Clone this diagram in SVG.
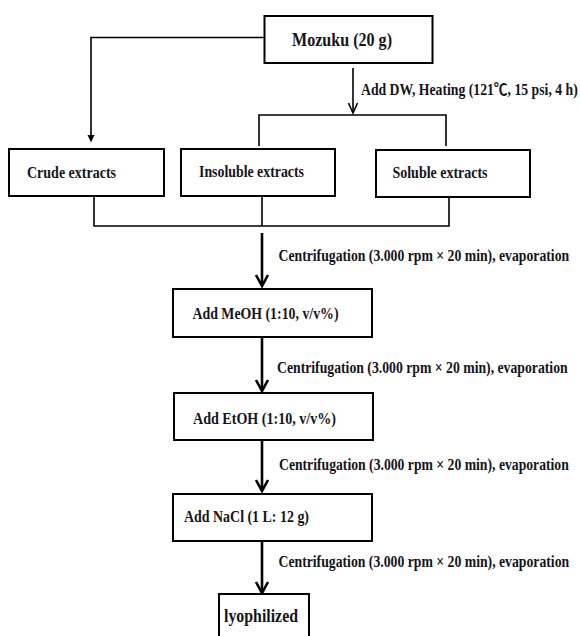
<svg xmlns="http://www.w3.org/2000/svg" width="580" height="636" viewBox="0 0 580 636">
<style>
.box{fill:#fff;stroke:#000;stroke-width:2}
.t{font-family:"Liberation Serif","Times New Roman","Noto Sans CJK KR",serif;font-weight:bold;fill:#14141c;font-size:16px}
.big{font-size:19px}
.conn{fill:none;stroke:#000;stroke-width:1.6}
.main{fill:none;stroke:#000;stroke-width:2.6}
</style>
<rect width="580" height="636" fill="#fff"/>
<g id="connectors">
  <path class="conn" d="M264,37.5 H91 V136"/>
  <polygon points="87.5,135 94.5,135 91,142.5" fill="#000"/>
  <line class="conn" x1="353" y1="68" x2="353" y2="112.5" stroke-width="1.4"/>
  <polyline class="conn" points="348.5,103 353,113 357.5,103" stroke-width="1.4"/>
  <path class="conn" d="M259,146 V115 H446 V146"/>
  <path class="conn" d="M94,197 V226 H449 V197 M262,197 V226"/>
  <line class="main" x1="262" y1="233" x2="262" y2="284"/>
  <polyline class="main" points="256,275 262,286 268,275"/>
  <line class="main" x1="262" y1="337" x2="262" y2="389"/>
  <polyline class="main" points="256,380 262,391 268,380"/>
  <line class="main" x1="262" y1="440" x2="262" y2="489"/>
  <polyline class="main" points="256,480 262,491 268,480"/>
  <line class="main" x1="262" y1="541" x2="262" y2="591"/>
  <polyline class="main" points="256,582 262,593 268,582"/>
  <text class="t" transform="translate(361,95) scale(0.86,1)" x="0" y="0" textLength="252" lengthAdjust="spacingAndGlyphs">Add DW, Heating (121℃, 15 psi, 4 h)</text>
  <text class="t" transform="translate(278.5,261) scale(0.86,1)" x="0" y="0" textLength="338" lengthAdjust="spacingAndGlyphs">Centrifugation (3.000 rpm × 20 min), evaporation</text>
  <text class="t" transform="translate(277,373) scale(0.86,1)" x="0" y="0" textLength="338" lengthAdjust="spacingAndGlyphs">Centrifugation (3.000 rpm × 20 min), evaporation</text>
  <text class="t" transform="translate(279,470) scale(0.86,1)" x="0" y="0" textLength="337" lengthAdjust="spacingAndGlyphs">Centrifugation (3.000 rpm × 20 min), evaporation</text>
  <text class="t" transform="translate(278.5,567) scale(0.86,1)" x="0" y="0" textLength="338" lengthAdjust="spacingAndGlyphs">Centrifugation (3.000 rpm × 20 min), evaporation</text>
</g>
<g id="mozuku">
  <rect class="box" x="264.5" y="16" width="168" height="47" stroke-width="3"/>
  <text class="t big" x="292" y="46" textLength="100" lengthAdjust="spacingAndGlyphs">Mozuku (20 g)</text>
</g>
<g id="crude">
  <rect class="box" x="9" y="149" width="155" height="47"/>
  <text class="t" x="27" y="178" textLength="89" lengthAdjust="spacingAndGlyphs">Crude extracts</text>
</g>
<g id="insoluble">
  <rect class="box" x="181" y="149" width="154" height="47"/>
  <text class="t" x="199" y="177" textLength="105" lengthAdjust="spacingAndGlyphs">Insoluble extracts</text>
</g>
<g id="soluble">
  <rect class="box" x="376" y="150" width="154" height="47"/>
  <text class="t" x="392.5" y="178" textLength="95" lengthAdjust="spacingAndGlyphs">Soluble extracts</text>
</g>
<g id="meoh">
  <rect class="box" x="173" y="289" width="199" height="48"/>
  <text class="t" x="192.5" y="319" textLength="146" lengthAdjust="spacingAndGlyphs">Add MeOH (1:10, v/v%)</text>
</g>
<g id="etoh">
  <rect class="box" x="174" y="393" width="199" height="47"/>
  <text class="t" x="193" y="424" textLength="143" lengthAdjust="spacingAndGlyphs">Add EtOH (1:10, v/v%)</text>
</g>
<g id="nacl">
  <rect class="box" x="173" y="494" width="199" height="47"/>
  <text class="t" x="184" y="522" textLength="125" lengthAdjust="spacingAndGlyphs">Add NaCl (1 L: 12 g)</text>
</g>
<g id="lyophilized">
  <rect class="box" x="219" y="594" width="90" height="50"/>
  <text class="t big" x="224" y="622" textLength="74" lengthAdjust="spacingAndGlyphs">lyophilized</text>
</g>
</svg>
